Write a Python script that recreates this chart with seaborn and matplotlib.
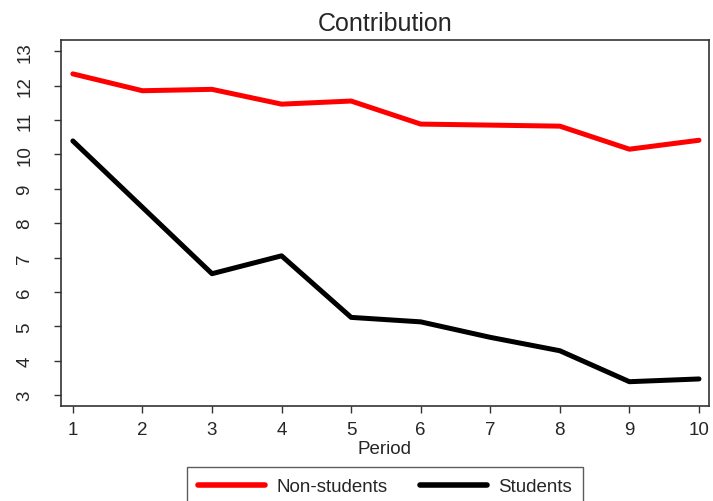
import matplotlib

matplotlib.use("Agg")

import matplotlib.pyplot as plt
import pandas as pd
import seaborn as sns

periods = [1, 2, 3, 4, 5, 6, 7, 8, 9, 10]
non_students = [12.34, 11.85, 11.89, 11.46, 11.55, 10.88, 10.85, 10.82, 10.15, 10.41]
students = [10.39, 8.46, 6.53, 7.05, 5.26, 5.13, 4.68, 4.29, 3.39, 3.47]
groups = ["Non-students", "Students"]
y_ticks = [3, 4, 5, 6, 7, 8, 9, 10, 11, 12, 13]

df = pd.DataFrame(
    {
        "period": periods * 2,
        "contribution": non_students + students,
        "group": [groups[0]] * len(periods) + [groups[1]] * len(periods),
    }
)

sns.set_theme(style="white")
plt.rcParams["font.family"] = ["Liberation Sans", "DejaVu Sans"]

fig = plt.figure(figsize=(7.13, 5.02), dpi=100)
ax = fig.add_axes([0.0856, 0.189, 0.9084, 0.729])

sns.lineplot(
    data=df,
    x="period",
    y="contribution",
    hue="group",
    palette={"Non-students": "#ff0000", "Students": "#000000"},
    linewidth=3.6,
    ax=ax,
    legend=False,
)

ax.set_xlim(0.83, 10.14)
ax.set_ylim(2.68, 13.32)
ax.set_xticks(periods)
ax.set_yticks(y_ticks)
ax.tick_params(axis="both", labelsize=13.5, length=5, width=1, color="#333333",
               direction="out", bottom=True, left=True)
ax.tick_params(axis="x", pad=6)
ax.tick_params(axis="y", pad=15, labelrotation=90)
for lab in ax.get_yticklabels():
    lab.set_verticalalignment("center")
for side in ["top", "right", "bottom", "left"]:
    ax.spines[side].set_color("#333333")
    ax.spines[side].set_linewidth(1.2)
ax.set_title("Contribution", fontsize=18, pad=7)
ax.set_xlabel("Period", fontsize=13.5, labelpad=1)
ax.set_ylabel("")

handles = [
    plt.Line2D([], [], color="#ff0000", linewidth=4),
    plt.Line2D([], [], color="#000000", linewidth=4),
]
leg = fig.legend(
    handles,
    groups,
    loc="upper center",
    bbox_to_anchor=(385 / 713, 0.068),
    ncol=2,
    fontsize=13.5,
    frameon=True,
    fancybox=False,
    edgecolor="#333333",
    handlelength=3.6,
    handletextpad=0.6,
    columnspacing=1.7,
    borderpad=0.6,
    borderaxespad=0,
)
leg.get_frame().set_linewidth(1)

fig.savefig("out.png", dpi=100)
